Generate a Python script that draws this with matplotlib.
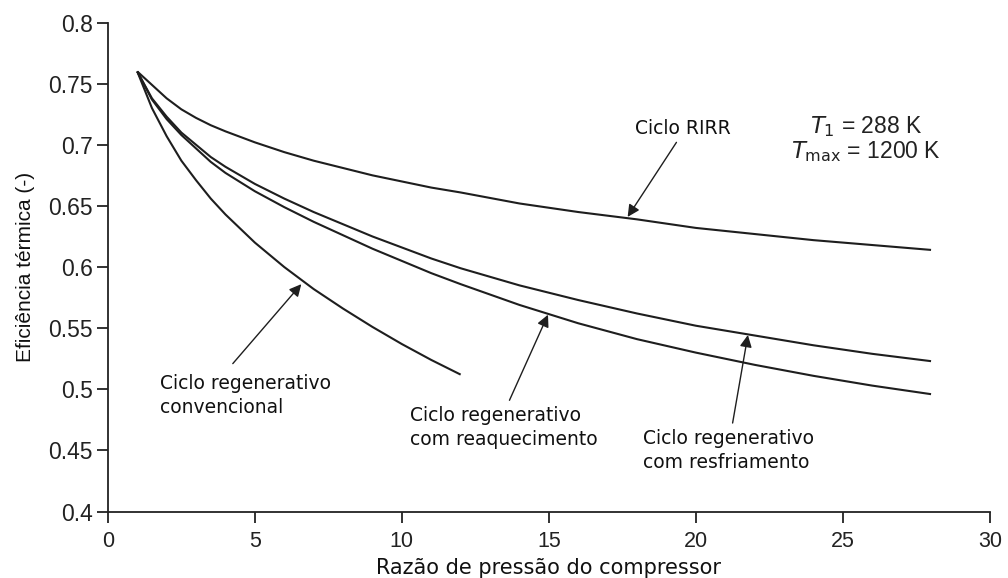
import matplotlib
matplotlib.use("Agg")
import matplotlib.pyplot as plt

# Razão de pressão do compressor x eficiência térmica
x_conv = [1, 1.5, 2, 2.5, 3, 3.5, 4, 5, 6, 7, 8, 9, 10, 11, 12]
eff_conv = [0.760, 0.730, 0.707, 0.687, 0.671, 0.656, 0.643, 0.620, 0.600,
            0.582, 0.566, 0.551, 0.537, 0.524, 0.512]

x_long = [1, 1.5, 2, 2.5, 3, 3.5, 4, 5, 6, 7, 8, 9, 10, 11, 12,
          14, 16, 18, 20, 22, 24, 26, 28]
eff_rirr = [0.760, 0.749, 0.738, 0.729, 0.722, 0.716, 0.711, 0.702, 0.694,
            0.687, 0.681, 0.675, 0.670, 0.665, 0.661,
            0.652, 0.645, 0.639, 0.632, 0.627, 0.622, 0.618, 0.614]
eff_resfr = [0.760, 0.738, 0.723, 0.710, 0.700, 0.690, 0.682, 0.668, 0.656,
             0.645, 0.635, 0.625, 0.616, 0.607, 0.599,
             0.585, 0.573, 0.562, 0.552, 0.544, 0.536, 0.529, 0.523]
eff_reaq = [0.760, 0.737, 0.721, 0.708, 0.697, 0.686, 0.677, 0.662, 0.649,
            0.637, 0.626, 0.615, 0.605, 0.595, 0.586,
            0.569, 0.554, 0.541, 0.530, 0.520, 0.511, 0.503, 0.496]

x_ticks = [0, 5, 10, 15, 20, 25, 30]
y_ticks = [0.4, 0.45, 0.5, 0.55, 0.6, 0.65, 0.7, 0.75, 0.8]
y_labels = ["0.4", "0.45", "0.5", "0.55", "0.6", "0.65", "0.7", "0.75", "0.8"]

line_color = "#1e1e1e"
text_color = "#222222"
label_font = "DejaVu Sans"
tick_font = "Liberation Sans"

fig = plt.figure(figsize=(10.08, 5.78), dpi=100)
ax = fig.add_axes([0.107, 0.115, 0.875, 0.846])

for xs, ys in [(x_long, eff_rirr), (x_long, eff_resfr), (x_long, eff_reaq), (x_conv, eff_conv)]:
    ax.plot(xs, ys, color=line_color, lw=1.5, solid_joinstyle="round", solid_capstyle="butt")

ax.set_xlim(0, 30)
ax.set_ylim(0.4, 0.8)
ax.set_xticks(x_ticks)
ax.set_yticks(y_ticks)
ax.set_yticklabels(y_labels)
ax.tick_params(direction="out", length=8, width=1.3, colors=text_color)
ax.tick_params(axis="y", labelsize=16.5, pad=3)
ax.tick_params(axis="x", labelsize=15.5, pad=6)
for lab in ax.get_xticklabels() + ax.get_yticklabels():
    lab.set_family(tick_font)

ax.spines["top"].set_visible(False)
ax.spines["right"].set_visible(False)
for s in ["left", "bottom"]:
    ax.spines[s].set_linewidth(1.3)
    ax.spines[s].set_color(text_color)

ax.set_xlabel("Razão de pressão do compressor", fontsize=15, family=label_font,
              labelpad=4, color="#111111")
ax.set_ylabel("Eficiência térmica (-)", fontsize=15, family=tick_font, labelpad=9,
              color="#111111")

arrow = dict(arrowstyle="-|>", color=line_color, lw=1.0, mutation_scale=18,
             shrinkA=0, shrinkB=0)
txt = dict(fontsize=13.5, family=label_font, color="#111111", linespacing=1.35)

# Ciclo RIRR
ax.annotate("", xy=(17.68, 0.641), xytext=(19.34, 0.702), arrowprops=arrow)
ax.text(19.55, 0.713, "Ciclo RIRR", ha="center", va="center", **txt)

# convencional
ax.annotate("", xy=(6.58, 0.586), xytext=(4.25, 0.521), arrowprops=arrow)
ax.text(1.76, 0.495, "Ciclo regenerativo\nconvencional", ha="left", va="center", **txt)

# reaquecimento
ax.annotate("", xy=(14.97, 0.561), xytext=(13.66, 0.491), arrowprops=arrow)
ax.text(10.26, 0.469, "Ciclo regenerativo\ncom reaquecimento", ha="left", va="center", **txt)

# resfriamento
ax.annotate("", xy=(21.77, 0.5444), xytext=(21.25, 0.4724), arrowprops=arrow)
ax.text(18.19, 0.450, "Ciclo regenerativo\ncom resfriamento", ha="left", va="center", **txt)

ax.text(25.78, 0.705, "$T_1$ = 288 K\n$T_{\\mathrm{max}}$ = 1200 K", fontsize=16.5,
        family=tick_font, ha="center", va="center", linespacing=1.0, color=text_color)

fig.savefig("out.png", dpi=100)
